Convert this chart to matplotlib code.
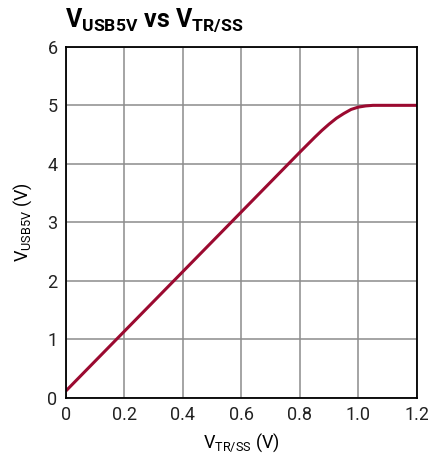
import numpy as np
from matplotlib import pyplot as plt

# curve
v_trss = [0.0, 0.1, 0.2, 0.3, 0.4, 0.5, 0.6, 0.7, 0.8, 0.85, 0.875, 0.9, 0.925,
          0.95, 0.975, 1.0, 1.025, 1.05, 1.1, 1.2]
v_usb5v = [0.12, 0.63, 1.14, 1.65, 2.16, 2.67, 3.18, 3.69, 4.2, 4.45, 4.57, 4.68, 4.78,
           4.86, 4.93, 4.97, 4.99, 5.0, 5.0, 5.0]

x_ticks = [0, 0.2, 0.4, 0.6, 0.8, 1.0, 1.2]
x_labels = ['0', '0.2', '0.4', '0.6', '0.8', '1.0', '1.2']
y_ticks = [0, 1, 2, 3, 4, 5, 6]

FONT = 'Roboto'
plt.rcParams['font.family'] = [FONT, 'DejaVu Sans']
plt.rcParams['mathtext.fontset'] = 'custom'
plt.rcParams['mathtext.rm'] = FONT
plt.rcParams['mathtext.it'] = FONT
plt.rcParams['mathtext.bf'] = FONT + ':bold'

fig = plt.figure(figsize=(4.28, 4.59), dpi=100)
ax = fig.add_axes([0.154, 0.133, 0.820, 0.765])

ax.plot(v_trss, v_usb5v, color='#9b0a30', lw=2.2, solid_capstyle='butt')

ax.set_xlim(0, 1.2)
ax.set_ylim(0, 6)
ax.set_xticks(x_ticks)
ax.set_xticklabels(x_labels)
ax.set_yticks(y_ticks)
ax.tick_params(length=0, labelsize=13, pad=6, colors='#222222')
ax.grid(True, color='#8c8c8c', lw=1.1)
for s in ax.spines.values():
    s.set_color('black')
    s.set_linewidth(1.3)

ax.set_xlabel(r'$\mathregular{V_{TR/SS}}$ (V)', fontsize=13, labelpad=5)
ax.set_ylabel(r'$\mathregular{V_{USB5V}}$ (V)', fontsize=13, labelpad=10)

fig.text(0.152, 0.955, r'$\mathbf{V_{USB5V}}$ vs $\mathbf{V_{TR/SS}}$',
         fontsize=18, fontweight='bold', va='center', ha='left')

fig.savefig('out.png', dpi=100)
